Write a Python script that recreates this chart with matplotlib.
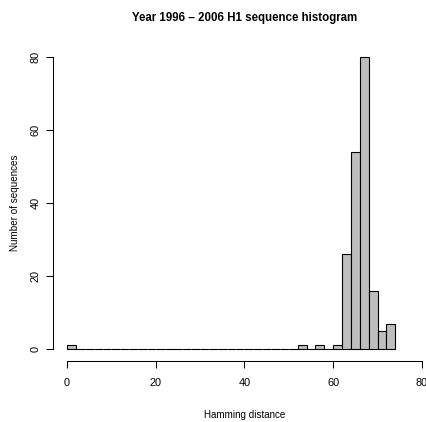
import numpy as np
import matplotlib
matplotlib.use("Agg")
import matplotlib.pyplot as plt

plt.rcParams['font.family'] = ['Liberation Sans', 'DejaVu Sans']

# histogram bins (width 2) and counts
bin_edges = np.arange(0, 76, 2)
counts = np.zeros(len(bin_edges) - 1)
count_at = {0: 1, 52: 1, 56: 1, 60: 1, 62: 26, 64: 54, 66: 80, 68: 16, 70: 5, 72: 7}
for left, c in count_at.items():
    counts[left // 2] = c

x_ticks = [0, 20, 40, 60, 80]
y_ticks = [0, 20, 40, 60, 80]
title = 'Year 1996 \u2013 2006 H1 sequence histogram'
xlabel = 'Hamming distance'
ylabel = 'Number of sequences'

W, H = 426, 422
fig = plt.figure(figsize=(W / 100, H / 100), dpi=100)
# plot region runs past the right edge, as in the cropped original
left, right, top, bottom = 52.8, 436.2, 45.6, 360.7
ax = fig.add_axes([left / W, (H - bottom) / H, (right - left) / W, (bottom - top) / H])

ax.bar(bin_edges[:-1], counts, width=2, align='edge', color='#bebebe',
       edgecolor='black', linewidth=0.8)

ax.set_xlim(-3.2, 83.2)
ax.set_ylim(-3.2, 83.2)
ax.spines['top'].set_visible(False)
ax.spines['right'].set_visible(False)
ax.spines['bottom'].set_bounds(0, 80)
ax.spines['left'].set_bounds(0, 80)
for s in ('bottom', 'left'):
    ax.spines[s].set_linewidth(0.75)
ax.set_xticks(x_ticks)
ax.set_yticks(y_ticks)
ax.tick_params(length=5.0, width=0.75, labelsize=7.9)
ax.tick_params(axis='x', pad=7.5)
ax.tick_params(axis='y', pad=3.5)
for lab in ax.get_yticklabels():
    lab.set_rotation(90)
    lab.set_va('center')
for lab in ax.get_xticklabels():
    lab.set_clip_on(False)

fig.text(244.5 / W, 1 - 21 / H, title, ha='center', va='baseline',
         fontsize=8.3, fontweight='bold')
fig.text(244.5 / W, 1 - 418 / H, xlabel, ha='center', va='baseline', fontsize=7.1)
fig.text(15.5 / W, 1 - 203 / H, ylabel, ha='center', va='center',
         fontsize=7.1, rotation=90)

fig.savefig('out.png', dpi=100)
